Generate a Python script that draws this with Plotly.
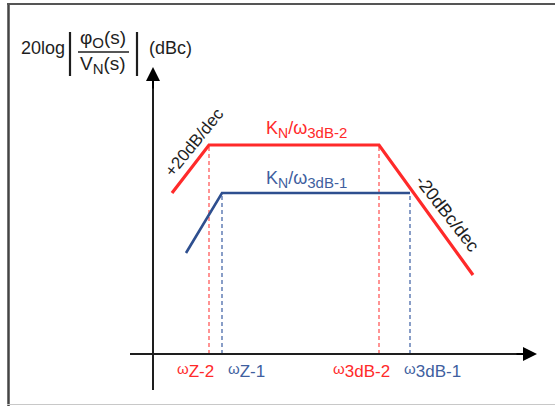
import plotly.graph_objects as go

# Data (abstract units: origin at the axes crossing, x = log-frequency, y = gain)
red_x = [19, 56, 226, 320]
red_y = [161, 209, 209, 79]
blue_x = [33, 69, 257]
blue_y = [101, 161, 161]

# corner frequencies (dashed markers)
red_marks = [56, 226]
red_mark_top = 209
blue_marks = [69, 257]
blue_mark_top = 161

tick_sub = ["Z-2", "Z-1", "3dB-2", "3dB-1"]
tick_x = [42, 93, 208, 279]
tick_col = ["red", "blue", "red", "blue"]

RED = "#ff2a2a"
BLUE = "#2e4f8f"
BLUE_T = "#3f5f9f"
DARK = "#1e1e1e"
FONT = "Liberation Sans, Arial, sans-serif"

X0, Y0 = 153, 354  # pixel of origin


def px(xp):
    return xp - X0


def py(yp):
    return Y0 - yp


fig = go.Figure()

for xm in red_marks:
    fig.add_trace(go.Scatter(x=[xm, xm], y=[0, red_mark_top], mode="lines",
                             line=dict(color="#ff5a5a", width=1.3, dash="4px,3px"),
                             hoverinfo="skip", showlegend=False))
for xm in blue_marks:
    fig.add_trace(go.Scatter(x=[xm, xm], y=[0, blue_mark_top], mode="lines",
                             line=dict(color="#4a6aaa", width=1.3, dash="4px,3px"),
                             hoverinfo="skip", showlegend=False))

fig.add_trace(go.Scatter(x=blue_x, y=blue_y, mode="lines",
                         line=dict(color=BLUE, width=2.6), showlegend=False))
fig.add_trace(go.Scatter(x=red_x, y=red_y, mode="lines",
                         line=dict(color=RED, width=3.2), showlegend=False))

shapes = []
# axes lines
shapes.append(dict(type="line", xref="x", yref="y", x0=px(130), y0=0, x1=px(525), y1=0,
                   line=dict(color=DARK, width=2)))
shapes.append(dict(type="line", xref="x", yref="y", x0=0, y0=py(390), x1=0, y1=py(78),
                   line=dict(color=DARK, width=2)))
# frame
shapes.append(dict(type="line", xref="paper", yref="paper", x0=8.5 / 555, x1=8.5 / 555,
                   y0=0, y1=1 - 3 / 406, line=dict(color="#444", width=2.5)))
shapes.append(dict(type="line", xref="paper", yref="paper", x0=7 / 555, x1=1,
                   y0=1 - 4 / 406, y1=1 - 4 / 406, line=dict(color="#555", width=2)))
shapes.append(dict(type="line", xref="paper", yref="paper", x0=7 / 555, x1=1,
                   y0=1.5 / 406, y1=1.5 / 406, line=dict(color="#c8c8c8", width=1)))
# title bars and fraction line
shapes.append(dict(type="line", xref="x", yref="y", x0=px(70), x1=px(70), y0=py(32), y1=py(76),
                   line=dict(color=DARK, width=2.2)))
shapes.append(dict(type="line", xref="x", yref="y", x0=px(137), x1=px(137), y0=py(32), y1=py(76),
                   line=dict(color=DARK, width=2.2)))
shapes.append(dict(type="line", xref="x", yref="y", x0=px(78), x1=px(129), y0=py(52), y1=py(52),
                   line=dict(color=DARK, width=1.6)))

ann = []
# arrow heads
ann.append(dict(x=px(537), y=0, ax=px(515), ay=0, xref="x", yref="y", axref="x", ayref="y",
                showarrow=True, arrowhead=2, arrowsize=1.4, arrowwidth=2, arrowcolor="#000", text=""))
ann.append(dict(x=0, y=py(67), ax=0, ay=py(90), xref="x", yref="y", axref="x", ayref="y",
                showarrow=True, arrowhead=2, arrowsize=1.4, arrowwidth=2, arrowcolor="#000", text=""))


def t(x, y, s, color=DARK, size=17, angle=0):
    ann.append(dict(x=px(x), y=py(y), xref="x", yref="y", text=s, showarrow=False,
                    font=dict(family=FONT, size=size, color=color), textangle=angle,
                    xanchor="center", yanchor="middle"))


def sub(s, size):
    return '<sub><span style="font-size:%dpx">%s</span></sub>' % (size, s)


t(43, 48, "20log", size=18)
t(103, 39, "φ" + sub("O", 15) + "(s)", size=19)
t(103, 65, "V" + sub("N", 15) + "(s)", size=19)
t(170, 48, "(dBc)", size=18)

t(306, 129, "K" + sub("N", 14) + "/ω" + sub("3dB-2", 15), RED, 18)
t(306, 179, "K" + sub("N", 14) + "/ω" + sub("3dB-1", 15), BLUE_T, 18)
t(194, 142, "+20dB/dec", DARK, 17, -51)
t(447, 213, "-20dBc/dec", DARK, 18, 52)

for s, xx, c in zip(tick_sub, tick_x, tick_col):
    ann.append(dict(x=xx, y=py(370), xref="x", yref="y",
                    text="ω" + sub(s, 17), showarrow=False,
                    font=dict(family=FONT, size=15, color=RED if c == "red" else BLUE_T),
                    xanchor="center", yanchor="middle"))

fig.update_layout(
    width=555, height=406, margin=dict(l=0, r=0, t=0, b=0),
    paper_bgcolor="white", plot_bgcolor="white",
    xaxis=dict(range=[-X0, 555 - X0], visible=False, fixedrange=True),
    yaxis=dict(range=[Y0 - 406, Y0], visible=False, fixedrange=True),
    shapes=shapes, annotations=ann,
)

fig.write_html("out.html")
